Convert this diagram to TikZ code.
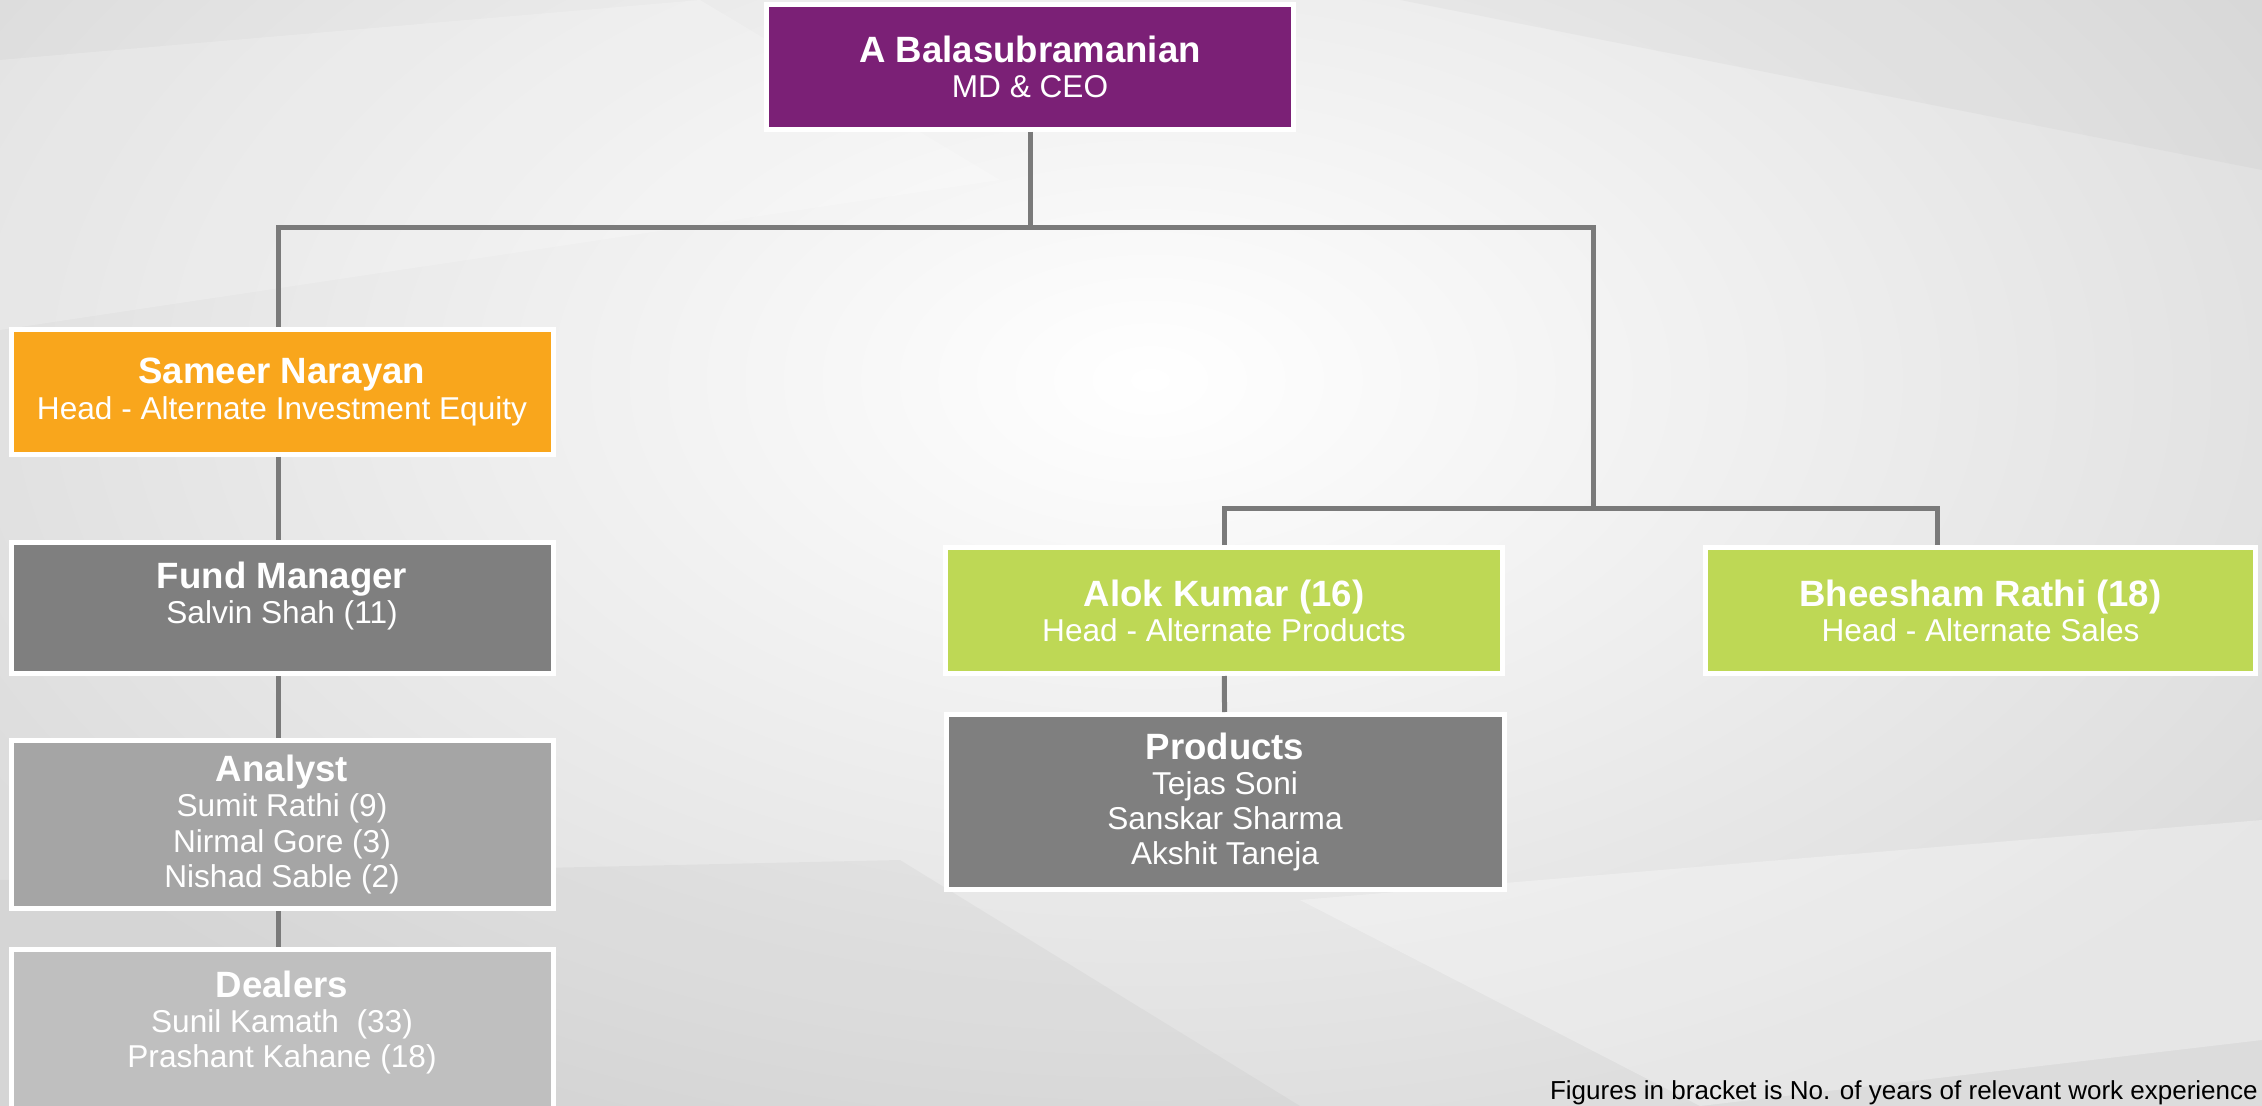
\documentclass[tikz,border=0pt]{standalone}
\usepackage{fontspec}
\setmainfont{Liberation Sans}
\definecolor{ceopurple}{HTML}{7B2076}
\definecolor{headorange}{HTML}{F9A61C}
\definecolor{headgreen}{HTML}{BED855}
\definecolor{teamgrey}{HTML}{7F7F7F}
\definecolor{analystgrey}{HTML}{A5A5A5}
\definecolor{dealergrey}{HTML}{BFBFBF}
\definecolor{linkgrey}{HTML}{7A7A7A}
\definecolor{bggrey}{HTML}{DCDCDC}
\newcommand{\namefont}{\fontsize{18.3}{17.6}\selectfont\bfseries}
\newcommand{\rolefont}{\fontsize{15.8}{17.6}\selectfont}
\tikzset{
  box/.style={rectangle, draw=white, line width=2.5pt, inner sep=0pt, align=center, text=white, font=\rolefont},
  link/.style={draw=linkgrey, line width=2.5pt},
}
\begin{document}
\begin{tikzpicture}[x=0.5pt, y=-0.5pt]
    \useasboundingbox (0,0) rectangle (2262,1106);
    \clip (0,0) rectangle (2262,1106);
    % background
    \fill[bggrey] (0,0) rectangle (2262,1106);
    \shade[inner color=white, outer color=bggrey] (1150,380) ellipse [x radius=1350, y radius=800];
    \fill[white, opacity=0.2] (0,60) -- (700,0) -- (1000,180) -- (0,330) -- cycle;
    \fill[gray, opacity=0.06] (1400,0) -- (2262,0) -- (2262,170) -- cycle;
    \fill[gray, opacity=0.07] (0,880) -- (900,860) -- (1300,1106) -- (0,1106) -- cycle;
    \fill[white, opacity=0.3] (1300,900) -- (2262,820) -- (2262,1040) -- (1700,1106) -- cycle;

    % boxes
    \node[box, fill=ceopurple, minimum width=263.5pt, minimum height=62.5pt] (ceo) at (1030,67) {{\namefont A Balasubramanian}\\MD \& CEO};
    \node[box, fill=headorange, minimum width=271pt, minimum height=62.5pt] (sameer) at (282,392) {{\namefont Sameer Narayan}\\Head - Alternate Investment Equity};
    \node[box, fill=teamgrey, minimum width=271pt, minimum height=65.5pt] (fm) at (282,608) {{\namefont Fund Manager}\\Salvin Shah (11)\\[-2pt]\mbox{}};
    \node[box, fill=analystgrey, minimum width=271pt, minimum height=84pt] (analyst) at (282,824.5) {{\namefont Analyst}\\Sumit Rathi (9)\\Nirmal Gore (3)\\Nishad Sable (2)};
    \node[box, fill=dealergrey, minimum width=271pt, minimum height=87.5pt] (dealers) at (282,1037) {{\namefont Dealers}\\Sunil Kamath\ \ (33)\\Prashant Kahane (18)\\\mbox{}};
    \node[box, fill=headgreen, minimum width=278.5pt, minimum height=63pt] (alok) at (1224,610.5) {{\namefont Alok Kumar (16)}\\Head - Alternate Products};
    \node[box, fill=teamgrey, minimum width=279pt, minimum height=87.5pt] (products) at (1225,802) {{\namefont Products}\\Tejas Soni\\Sanskar Sharma\\Akshit Taneja};
    \node[box, fill=headgreen, minimum width=275pt, minimum height=63pt] (bheesham) at (1980.5,610.5) {{\namefont Bheesham Rathi (18)}\\Head - Alternate Sales};

    % connectors
    \coordinate (bus) at (1030,228);
    \coordinate (fork) at (1593,508);
    \draw[link] (ceo.south) -- (bus);
    \draw[link] ([xshift=-2pt]sameer.north) |- (bus) -| (fork);
    \draw[link] (alok.north) |- (fork) -| ([xshift=-21.75pt]bheesham.north);
    \draw[link] ([xshift=-2pt]sameer.south) -- ([xshift=-2pt]fm.north);
    \draw[link] ([xshift=-2pt]fm.south) -- ([xshift=-2pt]analyst.north);
    \draw[link] ([xshift=-2pt]analyst.south) -- ([xshift=-2pt]dealers.north);
    \draw[link] (alok) -- (products);

    \node[anchor=base west, font=\fontsize{13}{16}\selectfont] (note) at (1543,1099) {Figures in bracket is No. of years of relevant work experience};
\end{tikzpicture}
\end{document}
